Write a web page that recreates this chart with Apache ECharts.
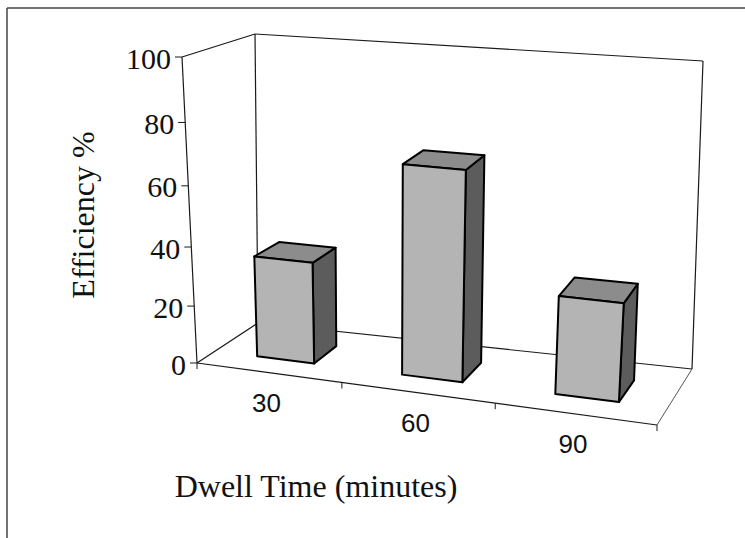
<!DOCTYPE html>
<html>
<head>
<meta charset="utf-8">
<script src="https://cdn.jsdelivr.net/npm/echarts@6/dist/echarts.min.js"></script>
<style>
  html, body { margin: 0; padding: 0; background: #fff; }
  #chart { width: 745px; height: 538px; }
</style>
</head>
<body>
<div id="chart"></div>
<script>
// ---- data ----
const categories = ['30', '60', '90'];
const efficiency = [35, 70, 33];
const yTicks = [0, 20, 40, 60, 80, 100];
const xTitle = 'Dwell Time (minutes)';
const yTitle = 'Efficiency %';

// ---- 3D box projection (screen placement of the Excel-style 3D plot box) ----
const FRONT = { bl: [197, 363], br: [657, 425], tl: [182, 57], tr: [679, 100] };
const BACK  = { bl: [258, 323], br: [692, 369], tl: [255, 34], tr: [703, 61] };
const BAR_RATIO = 0.4;          // gap width 150%
const DEPTH0 = 0.3, DEPTH1 = 0.7; // bar depth span
function warpU(u) { return 0.9175 * u + 0.0825 * u * u; }
function warpV(v) { return 0.9125 * v + 0.0875 * v * v; }
function lerp(a, b, t) { return [a[0] + (b[0] - a[0]) * t, a[1] + (b[1] - a[1]) * t]; }
function plane(p, U, V) { return lerp(lerp(p.bl, p.br, U), lerp(p.tl, p.tr, U), V); }
function project(u, v, w) {
  const U = warpU(u), V = warpV(v);
  return lerp(plane(FRONT, U, V), plane(BACK, U, V), w);
}
function toUV(cs, pt) {
  return [(pt[0] - cs.x) / cs.width, (cs.y + cs.height - pt[1]) / cs.height];
}

const LINE = '#1a1a1a';

function renderFrame(params, api) {
  const cs = params.coordSys;
  const children = [];
  const seg = (a, b, color, lw) => children.push({
    type: 'line', shape: { x1: a[0], y1: a[1], x2: b[0], y2: b[1] },
    style: { stroke: color || LINE, lineWidth: lw || 1.2 }
  });
  const vMax = toUV(cs, api.coord([0, yTicks[yTicks.length - 1]]))[1];
  // back wall
  seg(project(0, 0, 1), project(0, vMax, 1));
  seg(project(0, vMax, 1), project(1, vMax, 1));
  seg(project(1, vMax, 1), project(1, 0, 1));
  seg(project(0, 0, 1), project(1, 0, 1));
  // floor
  seg(project(0, 0, 0), project(0, 0, 1));
  seg(project(1, 0, 0), project(1, 0, 1), '#555', 1);
  seg(project(0, 0, 0), project(1, 0, 0));
  // left side edges
  seg(project(0, 0, 0), project(0, vMax, 0));
  seg(project(0, vMax, 0), project(0, vMax, 1));
  // value ticks + labels
  yTicks.forEach(t => {
    const v = toUV(cs, api.coord([0, t]))[1];
    const p = project(0, v, 0);
    seg([p[0] - 7, p[1]], p, LINE, 1);
    children.push({
      type: 'text', x: p[0] - 11, y: p[1] + 1,
      style: { text: String(t), fontFamily: 'Liberation Serif', fontSize: 30,
               fill: '#111', align: 'right', verticalAlign: 'middle' }
    });
  });
  // category ticks + labels
  const band = api.size([1, 0])[0];
  categories.forEach((c, i) => {
    const center = api.coord([i, 0]);
    const u = toUV(cs, center)[0];
    const p = project(u, 0, 0);
    children.push({
      type: 'text', x: p[0] - 2, y: p[1] + 30,
      style: { text: c, fontFamily: 'Liberation Sans', fontSize: 26,
               fill: '#111', align: 'center', verticalAlign: 'middle' }
    });
  });
  for (let i = 0; i <= categories.length; i++) {
    const x = api.coord([Math.min(i, categories.length - 1), 0])[0] + (i === categories.length ? band / 2 : -band / 2);
    const u = (x - cs.x) / cs.width;
    const p = project(u, 0, 0);
    seg(p, [p[0], p[1] + 6], LINE, 1);
  }
  return { type: 'group', children };
}

function renderBar(params, api) {
  const cs = params.coordSys;
  const idx = api.value(0), val = api.value(1);
  const band = api.size([1, 0])[0];
  const top = toUV(cs, api.coord([idx, val]));
  const base = toUV(cs, api.coord([idx, 0]));
  const hw = band * BAR_RATIO / 2 / cs.width;
  const u0 = base[0] - hw, u1 = base[0] + hw;
  const v0 = base[1], v1 = top[1];
  const poly = (pts, fill) => ({
    type: 'polygon', shape: { points: pts },
    style: { fill, stroke: '#000', lineWidth: 2, lineJoin: 'round' }
  });
  return {
    type: 'group',
    children: [
      poly([project(u1, v0, DEPTH0), project(u1, v0, DEPTH1), project(u1, v1, DEPTH1), project(u1, v1, DEPTH0)], '#5c5c5c'),
      poly([project(u0, v1, DEPTH0), project(u1, v1, DEPTH0), project(u1, v1, DEPTH1), project(u0, v1, DEPTH1)], '#8c8c8c'),
      poly([project(u0, v0, DEPTH0), project(u1, v0, DEPTH0), project(u1, v1, DEPTH0), project(u0, v1, DEPTH0)], '#b4b4b4')
    ]
  };
}

const chart = echarts.init(document.getElementById('chart'), null, { renderer: 'svg' });
chart.setOption({
  backgroundColor: '#ffffff',
  animation: false,
  grid: { left: 197, top: 57, width: 460, height: 306 },
  xAxis: { type: 'category', data: categories, show: false },
  yAxis: { type: 'value', min: 0, max: 100, interval: 20, show: false },
  graphic: [
    { type: 'line', shape: { x1: 7, y1: 8, x2: 745, y2: 8 }, style: { stroke: '#444', lineWidth: 1.5 } },
    { type: 'line', shape: { x1: 7, y1: 8, x2: 7, y2: 538 }, style: { stroke: '#444', lineWidth: 1.5 } },
    { type: 'text', x: 83, y: 215, rotation: Math.PI / 2,
      style: { text: yTitle, fontFamily: 'Liberation Serif', fontSize: 32, fill: '#111',
               align: 'center', verticalAlign: 'middle' } },
    { type: 'text', x: 316, y: 486,
      style: { text: xTitle, fontFamily: 'Liberation Serif', fontSize: 32, fill: '#111',
               align: 'center', verticalAlign: 'middle' } }
  ],
  series: [
    { type: 'custom', renderItem: renderFrame, data: [[0, 0]], silent: true, z: 1 },
    { type: 'custom', renderItem: renderBar, data: efficiency.map((v, i) => [i, v]), z: 2 }
  ]
});
</script>
</body>
</html>
